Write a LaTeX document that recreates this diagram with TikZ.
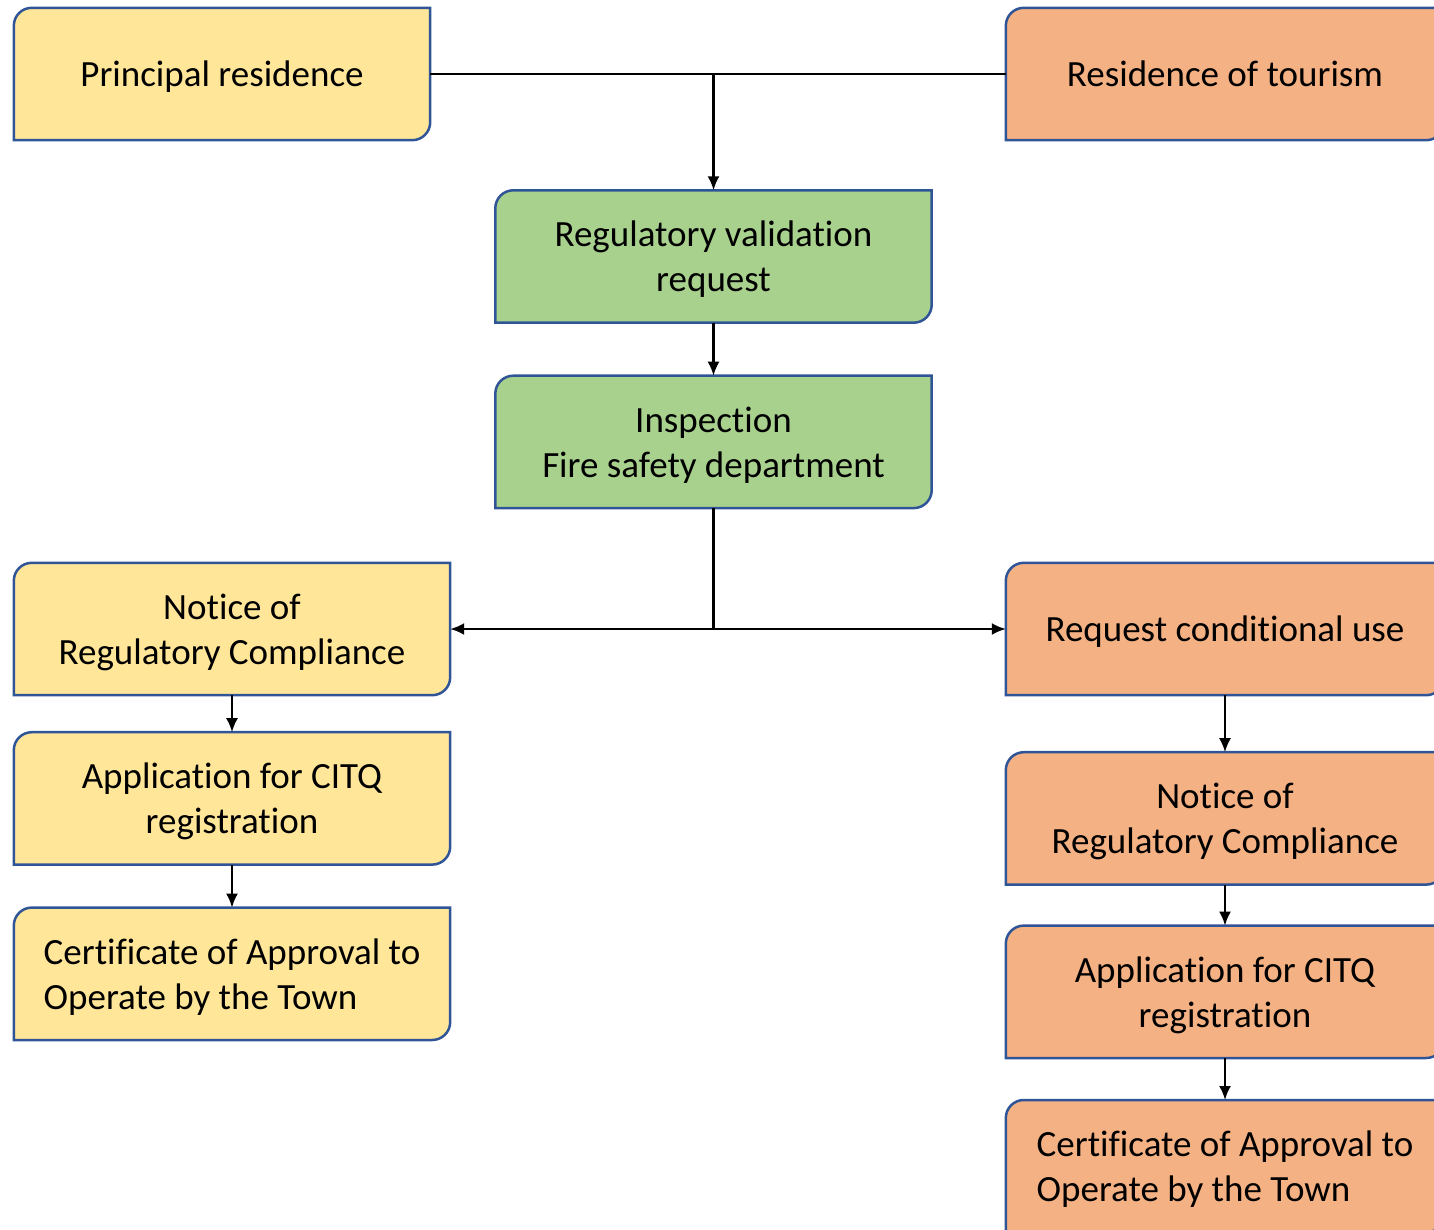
\documentclass[tikz,border=0pt]{standalone}
\usepackage{fontspec}
\setmainfont{Carlito}[Ligatures={NoCommon,NoRequired,NoContextual}, RawFeature={-ccmp}]
\usepackage{tikz}
\usetikzlibrary{positioning,arrows.meta,backgrounds}

\definecolor{boxline}{RGB}{47,85,151}
\definecolor{pale}{RGB}{255,230,153}
\definecolor{peach}{RGB}{244,177,131}
\definecolor{leaf}{RGB}{169,209,142}

\tikzset{
	stage/.style={minimum width=436pt, minimum height=132pt, inner sep=0pt, align=center, font=\fontsize{37}{45}\selectfont, text depth=-4pt},
	link/.style={line width=2.2pt, draw=black},
}

\begin{document}
\begin{tikzpicture}[x=1pt, y=-1pt, >={Latex[length=14pt,width=12pt]}]
	\useasboundingbox (0,0) rectangle (1434,1230);

	\node[stage, minimum width=416pt] (pr) at (222,74) {Principal residence};
	\node[stage, minimum width=438pt] (tour) at (1225,74) {Residence of tourism};
	\node[stage] (valid) at (713.5,256.5) {Regulatory validation\\request};
	\node[stage, below=53pt of valid] (insp) {Inspection\\Fire safety department};

	\node[stage] (lnotice) at (232,629) {Notice of\\Regulatory Compliance};
	\node[stage, below=37pt of lnotice] (lapp) {Application for CITQ\\registration};
	\node[stage, below=43pt of lapp, align=left] (lcert) {Certificate of Approval to\\Operate by the Town};

	\node[stage, minimum width=438pt] (req) at (1225,629) {Request conditional use};
	\node[stage, minimum width=438pt, below=57pt of req] (rnotice) {Notice of\\Regulatory Compliance};
	\node[stage, minimum width=438pt, below=41pt of rnotice] (rapp) {Application for CITQ\\registration};
	\node[stage, minimum width=438pt, below=42pt of rapp, align=left] (rcert) {Certificate of Approval to\\Operate by the Town};

	% boxes: top left and bottom right corners rounded
	\begin{pgfonlayer}{background}
		\foreach \n/\c in {pr/pale, tour/peach, valid/leaf, insp/leaf, lnotice/pale, lapp/pale, lcert/pale, req/peach, rnotice/peach, rapp/peach, rcert/peach}
			\draw[boxline, line width=2.5pt, fill=\c] (\n.west) [rounded corners=18pt] -- (\n.north west) -- (\n.north) [sharp corners] -- (\n.north east) -- (\n.east) [rounded corners=18pt] -- (\n.south east) -- (\n.south) [sharp corners] -- (\n.south west) -- cycle;
	\end{pgfonlayer}

	\coordinate (join) at (valid.north |- pr.east);
	\coordinate (split) at (insp.south |- lnotice.east);

	\path[link] (pr.east) -- (tour.west);
	\path[link, ->] (join) -- (valid);
	\path[link, ->] (valid) -- (insp);
	\path[link] (insp) -- (split);
	\path[link, ->] (split) -- (lnotice);
	\path[link, ->] (split) -- (req);

	\path[link, ->] (lnotice) -- (lapp);
	\path[link, ->] (lapp) -- (lcert);
	\path[link, ->] (req) -- (rnotice);
	\path[link, ->] (rnotice) -- (rapp);
	\path[link, ->] (rapp) -- (rcert);
\end{tikzpicture}
\end{document}
